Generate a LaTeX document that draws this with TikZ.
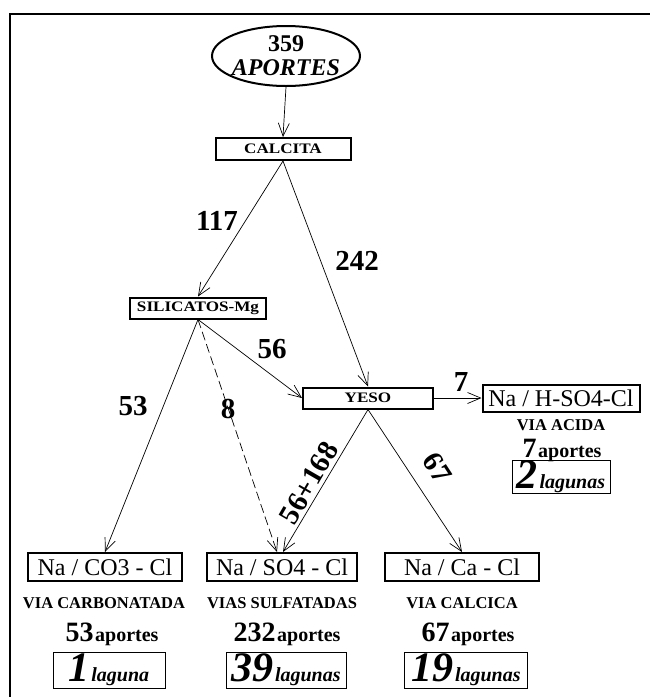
\documentclass[tikz,border=0pt]{standalone}
\usepackage{fontspec}
\setmainfont{Liberation Serif}
\newfontfamily\widefont[FakeStretch=1.18]{Liberation Serif}
\usetikzlibrary{arrows.meta,shapes.geometric}
\tikzset{
  conn/.style={line width=0.7pt,-{Straight Barb[length=13pt,width=11pt,line width=0.7pt]}},
  minbox/.style={draw,line width=2pt,inner sep=0pt,font=\widefont\bfseries\fontsize{14.5}{16}\selectfont},
  typebox/.style={draw,line width=2pt,inner sep=0pt,font=\fontsize{24}{25}\selectfont},
  lagbox/.style={draw,line width=1pt,inner sep=0pt},
  num/.style={font=\bfseries\fontsize{29}{30}\selectfont},
  via/.style={font=\bfseries\fontsize{16.5}{18}\selectfont},
}
\newcommand{\apor}[1]{{\bfseries\fontsize{28}{28}\selectfont #1}\,{\bfseries\fontsize{20}{20}\selectfont aportes}}
\newcommand{\lag}[2]{{\bfseries\itshape\fontsize{42}{42}\selectfont #1}\,{\bfseries\itshape\fontsize{20}{20}\selectfont #2}}
\begin{document}
\begin{tikzpicture}[x=1pt,y=1pt]
\useasboundingbox (0,-697) rectangle (650,0);
% frame
\draw[line width=2.5pt] (10,-697) -- (10,-14) -- (650,-14);
% nodes
\node[draw,ellipse,line width=2pt,minimum width=148pt,minimum height=60pt,inner sep=0pt] (ap) at (286,-56) {};
\node[align=center,inner sep=0pt,font=\bfseries\fontsize{24}{24}\selectfont] (apt) at (ap.center)
  {359\\{\itshape APORTES}};
\node[minbox,minimum width=135pt,minimum height=22pt] (cal) at (283,-149) {CALCITA};
\node[minbox,minimum width=136pt,minimum height=21pt] (sil) at (198,-308) {SILICATOS-Mg};
\node[minbox,minimum width=130pt,minimum height=21pt] (yeso) at (368,-398) {YESO};
\node[typebox,minimum width=157pt,minimum height=27pt] (acid) at (561,-398) {Na / H-SO4-Cl};
\node[typebox,minimum width=154pt,minimum height=28pt] (carb) at (105,-567) {Na / CO3 - Cl};
\node[typebox,minimum width=150pt,minimum height=28pt] (sulf) at (282,-567) {Na / SO4 - Cl};
\node[typebox,minimum width=154pt,minimum height=28pt] (calc) at (462,-567) {Na / Ca - Cl};
% sub texts
\node[via] (v1) at (104,-603) {VIA CARBONATADA};
\node[via] (v2) at (282,-603) {VIAS SULFATADAS};
\node[via] (v3) at (462,-603) {VIA CALCICA};
\node[via] (v4) at (561,-425) {VIA ACIDA};
\node (a1) at (112,-634) {\apor{53}};
\node (a2) at (287,-634) {\apor{232}};
\node (a3) at (468,-634) {\apor{67}};
\node (a4) at (562,-450) {\apor{7}};
\node[lagbox,minimum width=112pt,minimum height=36pt] (l1) at (109,-670) {\lag{1}{laguna}};
\node[lagbox,minimum width=120pt,minimum height=36pt] (l2) at (286,-670) {\lag{39}{lagunas}};
\node[lagbox,minimum width=123pt,minimum height=36pt] (l3) at (466,-670) {\lag{19}{lagunas}};
\node[lagbox,minimum width=98pt,minimum height=31pt] (l4) at (561,-477) {\lag{2}{lagunas}};
% connectors
\draw[conn] (ap.south) -- (cal.north);
\draw[conn] (cal.south) -- (sil.north);
\draw[conn] (cal.south) -- (yeso.north);
\draw[conn] (sil.south) -- (carb.north);
\draw[conn,dash pattern=on 9pt off 4pt] (sil.south) -- ([xshift=-5pt]sulf.north);
\draw[conn] (sil.south) -- (yeso.west);
\draw[conn] (yeso.east) -- (acid.west);
\draw[conn] (yeso.south) -- ([xshift=1pt]sulf.north);
\draw[conn] (yeso.south) -- (calc.north);
% edge labels
\node[num] (n117) at (217,-221) {117};
\node[num] (n242) at (357,-261) {242};
\node[num] (n56) at (272,-349) {56};
\node[num] (n53) at (133,-406) {53};
\node[num] (n8) at (228,-409) {8};
\node[num] (n7) at (461,-382) {7};
\node[num,rotate=60] (n224) at (309,-483) {56+168};
\node[num,rotate=-57] (n67) at (437,-468) {67};
\end{tikzpicture}
\end{document}
